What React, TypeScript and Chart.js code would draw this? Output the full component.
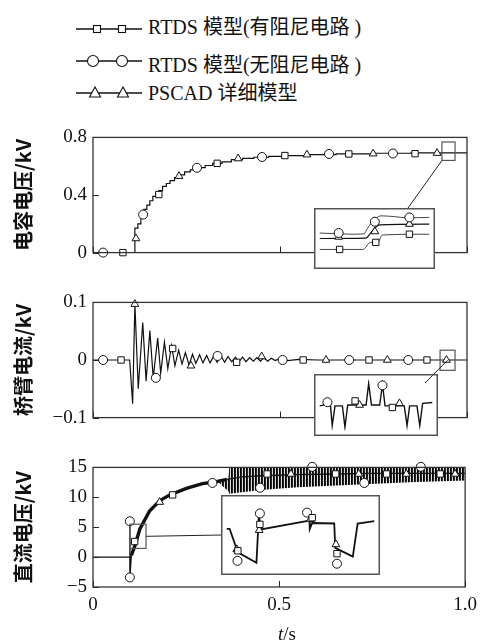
import React, { useEffect, useRef } from 'react';
import { Chart, registerables } from 'chart.js';
Chart.register(...registerables);

// ---------------- data ----------------
const LEGEND = ['RTDS 模型(有阻尼电路 )', 'RTDS 模型(无阻尼电路 )', 'PSCAD 详细模型'];
const Y_TITLES = ['电容电压/kV', '桥臂电流/kV', '直流电压/kV'];
const X_TICKS = [0, 0.5, 1.0];

// panel 1: capacitor voltage (kV)
const capT = [0, 0.110, 0.112, 0.120, 0.128, 0.136, 0.144, 0.152, 0.160, 0.168, 0.176, 0.186, 0.196, 0.206, 0.218, 0.230, 0.245, 0.260, 0.280, 0.300, 0.320, 0.345, 0.370, 0.400, 0.430, 0.470, 0.520, 0.580, 0.650, 0.750, 0.850, 1.0];
const capV = [0, 0, 0.17, 0.20, 0.26, 0.30, 0.33, 0.36, 0.39, 0.41, 0.43, 0.46, 0.48, 0.50, 0.52, 0.54, 0.56, 0.575, 0.59, 0.605, 0.62, 0.63, 0.645, 0.655, 0.662, 0.668, 0.673, 0.68, 0.685, 0.69, 0.692, 0.695];
const capSqT = [0.080, 0.176, 0.332, 0.513, 0.684, 0.861];
const capSqV = [0, 0.403, 0.62, 0.674, 0.685, 0.687];
const capCiT = [0.027, 0.134, 0.278, 0.452, 0.631, 0.802];
const capCiV = [0, 0.264, 0.589, 0.664, 0.685, 0.688];
const capTrT = [0.115, 0.230, 0.388, 0.572, 0.749, 0.920];
const capTrV = [0.098, 0.531, 0.653, 0.68, 0.687, 0.691];

// panel 2: arm current (kV axis as in source)
const armT = [0, 0.098, 0.106, 0.112, 0.121, 0.133, 0.142, 0.152, 0.161, 0.173, 0.181, 0.191, 0.200, 0.210, 0.219, 0.229, 0.238, 0.247, 0.257, 0.266, 0.275, 0.285, 0.294, 0.304, 0.313, 0.323, 0.332, 0.342, 0.352, 0.361, 0.371, 0.381, 0.390, 0.400, 0.409, 0.419, 0.429, 0.438, 0.448, 0.457, 0.467, 0.477, 0.487, 0.497, 0.52, 0.55, 0.6, 0.7, 0.8, 0.9, 1.0];
const armI = [0, 0, -0.076, 0.097, -0.050, 0.065, -0.037, 0.051, -0.031, 0.038, -0.023, 0.031, -0.015, 0.025, -0.010, 0.017, -0.007, 0.013, -0.009, 0.010, -0.006, 0.009, -0.005, 0.008, -0.005, 0.007, -0.004, 0.007, -0.004, 0.006, -0.003, 0.005, -0.003, 0.005, -0.003, 0.004, -0.002, 0.004, -0.002, 0.004, -0.002, 0.003, -0.001, 0.002, -0.001, 0.001, 0, 0, 0, 0, 0];
const armSqT = [0.075, 0.213, 0.384, 0.562, 0.738, 0.893];
const armSqV = [0, 0.020, -0.004, 0, 0, 0];
const armCiT = [0.027, 0.168, 0.333, 0.507, 0.685, 0.843];
const armCiV = [0, -0.031, 0.007, 0, 0, 0];
const armTrT = [0.112, 0.262, 0.451, 0.623, 0.787, 0.945];
const armTrV = [0.097, -0.010, 0.006, 0, 0, 0];

// panel 3: DC voltage (kV)
const dcT = [0, 0.099, 0.0991, 0.0993, 0.103, 0.112, 0.126, 0.152, 0.179, 0.206, 0.251, 0.294, 0.331, 0.36, 0.40, 0.45, 0.55, 0.65, 0.75, 0.85, 1.0];
const dcV = [0, 0, 6.0, -3.4, 0.3, 1.8, 4.7, 7.7, 9.4, 10.4, 11.5, 12.3, 12.6, 13.0, 13.4, 13.6, 13.8, 13.9, 14.0, 14.0, 14.0];
const rippleT = [0.340, 0.364, 0.366, 0.45, 0.55, 0.70, 0.85, 1.0];
const rippleHi = [12.9, 13.1, 14.9, 14.9, 14.9, 14.9, 14.9, 14.9];
const rippleLo = [12.3, 11.0, 10.6, 11.2, 11.7, 12.1, 12.5, 12.8];
const dcSqT = [0.112, 0.214, 0.468, 0.652, 0.789, 0.933];
const dcSqV = [2.6, 10.4, 13.9, 13.9, 13.9, 13.9];
const dcCiT = [0.099, 0.099, 0.321, 0.449, 0.589, 0.729, 0.881];
const dcCiV = [6.0, -3.4, 12.4, 11.6, 15.1, 12.4, 15.1];
const dcTrT = [0.179, 0.532, 0.714, 0.842, 0.973];
const dcTrV = [9.2, 13.9, 13.9, 13.9, 13.9];

// inset 1 (zoom of panel 1 near t = 0.95 s)
const in1CiT = [0.9330, 0.9434, 0.9472, 0.9482, 0.9497, 0.9526, 0.9569, 0.9607, 0.9680];
const in1CiV = [0.718, 0.715, 0.716, 0.729, 0.746, 0.762, 0.760, 0.757, 0.758];
const in1TrT = [0.9330, 0.9477, 0.9489, 0.9505, 0.9521, 0.9680];
const in1TrV = [0.704, 0.705, 0.714, 0.730, 0.739, 0.741];
const in1SqT = [0.9330, 0.9468, 0.9492, 0.9515, 0.9530, 0.9680];
const in1SqV = [0.676, 0.676, 0.694, 0.694, 0.713, 0.715];
const in1MkCiT = [0.9391, 0.9506, 0.9616];
const in1MkCiV = [0.718, 0.747, 0.758];
const in1MkTrT = [0.9391, 0.9506, 0.9616];
const in1MkTrV = [0.708, 0.722, 0.741];
const in1MkSqT = [0.9394, 0.9509, 0.9616];
const in1MkSqV = [0.676, 0.694, 0.715];

// inset 2 (zoom of panel 2 near t = 0.95 s)
const in2T = [0.9280, 0.9309, 0.9319, 0.9325, 0.9335, 0.9361, 0.9370, 0.9380, 0.9445, 0.9454, 0.9464, 0.9493, 0.9503, 0.9512, 0.9580, 0.9590, 0.9599, 0.9625, 0.9635, 0.9645, 0.9680];
const in2I = [-0.0011, 0.0000, -0.0011, -0.0146, -0.0011, -0.0011, -0.0156, -0.0005, -0.0005, 0.0142, -0.0005, -0.0005, 0.0136, -0.0011, -0.0011, -0.0146, -0.0011, -0.0011, -0.0146, 0.0006, 0.0012];
const in2MkCiT = [0.9308, 0.9503];
const in2MkCiV = [0.0014, 0.0130];
const in2MkSqT = [0.9406, 0.9538];
const in2MkSqV = [0.0023, -0.0022];
const in2MkTrT = [0.9422, 0.9563];
const in2MkTrV = [-0.0005, 0.0006];

// inset 3 (zoom of panel 3 near t = 0.1 s)
const in3T = [0.0990, 0.0999, 0.1023, 0.1077, 0.1084, 0.1090, 0.1231, 0.1232, 0.1239, 0.1303, 0.1306, 0.1357, 0.1371, 0.1420];
const in3V = [3.84, 3.84, 2.46, 1.84, 4.62, 3.80, 4.32, 3.83, 4.18, 4.15, 2.72, 2.21, 4.15, 4.29];
const in3MkCiT = [0.1022, 0.1087, 0.1224, 0.1311];
const in3MkCiV = [1.96, 4.74, 4.79, 1.79];
const in3MkSqT = [0.1023, 0.1087, 0.1239, 0.1311];
const in3MkSqV = [2.55, 4.10, 4.49, 2.38];
const in3MkTrT = [0.1020, 0.1085, 0.1234, 0.1308];
const in3MkTrV = [2.63, 3.76, 4.40, 2.92];

// ---------------- helpers ----------------
const SERIF = '"Liberation Serif", "Times New Roman", serif';
const CJK = '"Noto Sans CJK SC", "Noto Sans", sans-serif';
const INK = '#111';

const pts = (xs: number[], ys: number[]) => xs.map((x, i) => ({ x, y: ys[i] }));

function markerSets(sqT: number[], sqV: number[], ciT: number[], ciV: number[], trT: number[], trV: number[]) {
  const base = {
    showLine: false, pointBackgroundColor: '#fff', pointBorderColor: INK,
    pointBorderWidth: 1, pointRadius: 4.5, clip: false as any,
  };
  return [
    { ...base, label: LEGEND[0], data: pts(sqT, sqV), pointStyle: 'rect' },
    { ...base, label: LEGEND[1], data: pts(ciT, ciV), pointStyle: 'circle' },
    { ...base, label: LEGEND[2], data: pts(trT, trV), pointStyle: 'triangle' },
  ];
}

const curve = (xs: number[], ys: number[], extra: any = {}) => ({
  data: pts(xs, ys), borderColor: INK, borderWidth: 1.2, pointRadius: 0, fill: false, tension: 0, ...extra,
});

const fmt = (v: number) => {
  if (Math.abs(v) < 1e-9) return '0';
  const s = String(Math.round(Math.abs(v) * 1000) / 1000);
  return (v < 0 ? '\u2212' : '') + s;
};

type Panel = {
  top: number; height: number; padBottom: number; xHeight: number; showX: boolean;
  yMin: number; yMax: number; yStep: number; title: string;
  box: [number, number, number, number]; anchor: 'bl' | 'c' | 'r'; linkTo: [number, number];
};

type Inset = { left: number; top: number; w: number; h: number; xr: [number, number]; yr: [number, number] };

const P1: Panel = { top: 120, height: 150, padBottom: 12, xHeight: 0, showX: false, yMin: 0, yMax: 0.8, yStep: 0.4, title: Y_TITLES[0], box: [0.933, 0.968, 0.64, 0.768], anchor: 'bl', linkTo: [408, 208] };
const P2: Panel = { top: 285, height: 150, padBottom: 12, xHeight: 0, showX: false, yMin: -0.1, yMax: 0.1, yStep: 0.1, title: Y_TITLES[1], box: [0.928, 0.968, -0.018, 0.017], anchor: 'c', linkTo: [425, 383] };
const P3: Panel = { top: 450, height: 192, padBottom: 25, xHeight: 30, showX: true, yMin: -5, yMax: 15, yStep: 5, title: Y_TITLES[2], box: [0.099, 0.1425, 1.45, 5.5], anchor: 'r', linkTo: [221, 535] };

const I1: Inset = { left: 314, top: 208, w: 121, h: 61, xr: [0.933, 0.968], yr: [0.64, 0.768] };
const I2: Inset = { left: 314, top: 374, w: 124, h: 62, xr: [0.928, 0.968], yr: [-0.018, 0.017] };
const I3: Inset = { left: 221, top: 495, w: 159, h: 80, xr: [0.099, 0.142], yr: [1.45, 5.5] };

function makeMain(canvas: HTMLCanvasElement, p: Panel, datasets: any[]) {
  const link = { x1: 0, y1: 0 };
  const decor = {
    id: 'decor',
    afterDatasetsDraw(chart: any) {
      const { ctx, chartArea: a } = chart;
      const xs = chart.scales.x, ys = chart.scales.y;
      ctx.save();
      ctx.strokeStyle = '#222'; ctx.lineWidth = 1;
      ctx.beginPath();
      for (const t of ys.ticks) { const py = Math.round(ys.getPixelForValue(t.value)) + 0.5; ctx.moveTo(a.left, py); ctx.lineTo(a.left + 6, py); }
      for (const t of xs.ticks) { const px = Math.round(xs.getPixelForValue(t.value)) + 0.5; ctx.moveTo(px, a.bottom); ctx.lineTo(px, a.bottom - 6); }
      ctx.stroke();
      ctx.strokeStyle = '#333'; ctx.lineWidth = 1.3;
      ctx.strokeRect(a.left, a.top, a.right - a.left, a.bottom - a.top);
      const [t0, t1, v0, v1] = p.box;
      const bx0 = xs.getPixelForValue(t0), bx1 = xs.getPixelForValue(t1);
      const by0 = ys.getPixelForValue(v1), by1 = ys.getPixelForValue(v0);
      ctx.strokeStyle = '#555'; ctx.lineWidth = 1.2;
      ctx.strokeRect(bx0, by0, bx1 - bx0, by1 - by0);
      let sx = bx0, sy = by1;
      if (p.anchor === 'c') { sx = (bx0 + bx1) / 2; sy = (by0 + by1) / 2; }
      if (p.anchor === 'r') { sx = bx1; sy = (by0 + by1) / 2; }
      link.x1 = sx; link.y1 = sy + p.top;
      ctx.strokeStyle = '#222'; ctx.lineWidth = 1;
      ctx.beginPath(); ctx.moveTo(sx, sy); ctx.lineTo(p.linkTo[0], p.linkTo[1] - p.top); ctx.stroke();
      ctx.restore();
    },
  };
  const tickFont = { family: SERIF, size: 19 };
  const chart = new Chart(canvas, {
    type: 'line',
    data: { datasets },
    options: {
      animation: false, responsive: false, devicePixelRatio: 1, events: [],
      layout: { padding: { left: 0, right: 17, top: 13, bottom: p.padBottom } },
      plugins: { legend: { display: false }, tooltip: { enabled: false } },
      scales: {
        x: {
          type: 'linear', min: 0, max: 1,
          afterBuildTicks: (s: any) => { s.ticks = X_TICKS.map((v) => ({ value: v })); },
          ticks: { display: p.showX, padding: 7, font: tickFont, color: INK, callback: (v: any) => (v === 1 ? '1.0' : String(v)) },
          grid: { display: false, drawTicks: false }, border: { display: false },
          afterFit: (s: any) => { s.height = p.xHeight; },
        },
        y: {
          type: 'linear', min: p.yMin, max: p.yMax,
          ticks: { stepSize: p.yStep, padding: 6, font: tickFont, color: INK, callback: (v: any) => fmt(Number(v)) },
          grid: { display: false, drawTicks: false }, border: { display: false },
          title: { display: true, text: p.title, color: INK, font: { family: CJK, size: 20, weight: 'bold' }, padding: { top: 11, bottom: 0 } },
          afterFit: (s: any) => { s.width = 93; },
        },
      },
    } as any,
    plugins: [decor],
  });
  return { chart, link };
}

function makeInset(canvas: HTMLCanvasElement, ic: Inset, datasets: any[], seg: { x1: number; y1: number; x2: number; y2: number }) {
  const deco = {
    id: 'insetDeco',
    afterDraw(chart: any) {
      const { ctx } = chart;
      ctx.save();
      ctx.strokeStyle = '#222'; ctx.lineWidth = 1;
      ctx.beginPath(); ctx.moveTo(seg.x1 - ic.left, seg.y1 - ic.top); ctx.lineTo(seg.x2 - ic.left, seg.y2 - ic.top); ctx.stroke();
      ctx.strokeStyle = '#555'; ctx.lineWidth = 1.5;
      ctx.strokeRect(0.75, 0.75, ic.w - 1.5, ic.h - 1.5);
      ctx.restore();
    },
  };
  return new Chart(canvas, {
    type: 'line',
    data: { datasets },
    options: {
      animation: false, responsive: false, devicePixelRatio: 1, events: [],
      layout: { padding: 0 },
      plugins: { legend: { display: false }, tooltip: { enabled: false } },
      scales: {
        x: { type: 'linear', display: false, min: ic.xr[0], max: ic.xr[1] },
        y: { type: 'linear', display: false, min: ic.yr[0], max: ic.yr[1] },
      },
    } as any,
    plugins: [deco],
  });
}

function LegendBlock() {
  const rows = [
    { y: 29, ty: 15, kind: 'rect', xs: [97, 122] },
    { y: 61, ty: 53, kind: 'circle', xs: [93, 122] },
    { y: 93, ty: 81, kind: 'tri', xs: [95, 123] },
  ];
  return (
    <>
      <svg width={160} height={110} style={{ position: 'absolute', left: 0, top: 0 }}>
        {rows.map((r, i) => (
          <g key={i} stroke={INK} strokeWidth={1.1} fill="#fff">
            <line x1={76} y1={r.y} x2={142} y2={r.y} strokeWidth={1.4} />
            {r.xs.map((cx, j) =>
              r.kind === 'rect' ? (
                <rect key={j} x={cx - 3.5} y={r.y - 3.5} width={7} height={7} />
              ) : r.kind === 'circle' ? (
                <circle key={j} cx={cx} cy={r.y} r={5.5} />
              ) : (
                <polygon key={j} points={`${cx},${r.y - 6} ${cx - 5.5},${r.y + 4} ${cx + 5.5},${r.y + 4}`} />
              )
            )}
          </g>
        ))}
      </svg>
      {rows.map((r, i) => (
        <div key={i} style={{ position: 'absolute', left: 148, top: r.ty, height: 24, lineHeight: '24px', fontSize: 20, fontFamily: `"Liberation Serif", "Times New Roman", ${CJK}`, color: INK, whiteSpace: 'nowrap' }}>
          {LEGEND[i]}
        </div>
      ))}
    </>
  );
}

export default function App() {
  const c1 = useRef<HTMLCanvasElement>(null);
  const c2 = useRef<HTMLCanvasElement>(null);
  const c3 = useRef<HTMLCanvasElement>(null);
  const i1 = useRef<HTMLCanvasElement>(null);
  const i2 = useRef<HTMLCanvasElement>(null);
  const i3 = useRef<HTMLCanvasElement>(null);

  useEffect(() => {
    const charts: Chart[] = [];
    // stripe pattern for the dense ripple band
    const pc = document.createElement('canvas');
    pc.width = 3; pc.height = 1;
    const pctx = pc.getContext('2d')!;
    pctx.fillStyle = '#000'; pctx.fillRect(0, 0, 1, 1);
    pctx.fillStyle = '#222'; pctx.fillRect(1, 0, 1, 1);
    pctx.fillStyle = '#ddd'; pctx.fillRect(2, 0, 1, 1);
    const pattern = c3.current!.getContext('2d')!.createPattern(pc, 'repeat');

    const m1 = makeMain(c1.current!, P1, [
      ...markerSets(capSqT, capSqV, capCiT, capCiV, capTrT, capTrV),
      curve(capT, capV, { stepped: 'before' }),
    ]);
    const m2 = makeMain(c2.current!, P2, [
      ...markerSets(armSqT, armSqV, armCiT, armCiV, armTrT, armTrV),
      curve(armT, armI),
    ]);
    const m3 = makeMain(c3.current!, P3, [
      ...markerSets(dcSqT, dcSqV, dcCiT, dcCiV, dcTrT, dcTrV),
      curve(dcT, dcV, {
        segment: {
          borderWidth: (c: any) => {
            const t = dcT[c.p0DataIndex];
            return t >= 0.1 && t < 0.36 ? 3.4 : 1.3;
          },
        },
      }),
      curve(rippleT, rippleHi, { borderColor: 'rgba(0,0,0,0)', fill: '+1', backgroundColor: pattern }),
      curve(rippleT, rippleLo, { borderColor: 'rgba(0,0,0,0)' }),
    ]);
    charts.push(m1.chart, m2.chart, m3.chart);

    charts.push(
      makeInset(i1.current!, I1, [
        ...markerSets(in1MkSqT, in1MkSqV, in1MkCiT, in1MkCiV, in1MkTrT, in1MkTrV),
        curve(in1CiT, in1CiV, { borderColor: '#444', borderWidth: 1, cubicInterpolationMode: 'monotone' }),
        curve(in1TrT, in1TrV, { borderWidth: 1.2, cubicInterpolationMode: 'monotone' }),
        curve(in1SqT, in1SqV, { borderColor: '#444', borderWidth: 1, cubicInterpolationMode: 'monotone' }),
      ], { x1: m1.link.x1, y1: m1.link.y1, x2: P1.linkTo[0], y2: P1.linkTo[1] })
    );
    charts.push(
      makeInset(i2.current!, I2, [
        ...markerSets(in2MkSqT, in2MkSqV, in2MkCiT, in2MkCiV, in2MkTrT, in2MkTrV),
        curve(in2T, in2I, { borderWidth: 1.4 }),
      ], { x1: m2.link.x1, y1: m2.link.y1, x2: P2.linkTo[0], y2: P2.linkTo[1] })
    );
    charts.push(
      makeInset(i3.current!, I3, [
        ...markerSets(in3MkSqT, in3MkSqV, in3MkCiT, in3MkCiV, in3MkTrT, in3MkTrV),
        curve(in3T, in3V, { borderWidth: 1.8 }),
      ], { x1: m3.link.x1, y1: m3.link.y1, x2: P3.linkTo[0], y2: P3.linkTo[1] })
    );
    return () => charts.forEach((c) => c.destroy());
  }, []);

  const abs = (left: number, top: number, extra: any = {}) => ({ position: 'absolute' as const, left, top, ...extra });

  return (
    <div style={{ position: 'absolute', left: 0, top: 0, width: 484, height: 642, background: '#fff', overflow: 'hidden' }}>
      <LegendBlock />
      <canvas ref={c1} width={484} height={P1.height} style={abs(0, P1.top)} />
      <canvas ref={c2} width={484} height={P2.height} style={abs(0, P2.top)} />
      <canvas ref={c3} width={484} height={P3.height} style={abs(0, P3.top)} />
      <canvas ref={i1} width={I1.w} height={I1.h} style={abs(I1.left, I1.top, { background: '#fff' })} />
      <canvas ref={i2} width={I2.w} height={I2.h} style={abs(I2.left, I2.top, { background: '#fff' })} />
      <canvas ref={i3} width={I3.w} height={I3.h} style={abs(I3.left, I3.top, { background: '#fff' })} />
      <div style={abs(278, 622, { height: 24, lineHeight: '24px', fontSize: 19, fontFamily: SERIF, color: INK, whiteSpace: 'nowrap' })}>
        <i>t</i>/s
      </div>
    </div>
  );
}
